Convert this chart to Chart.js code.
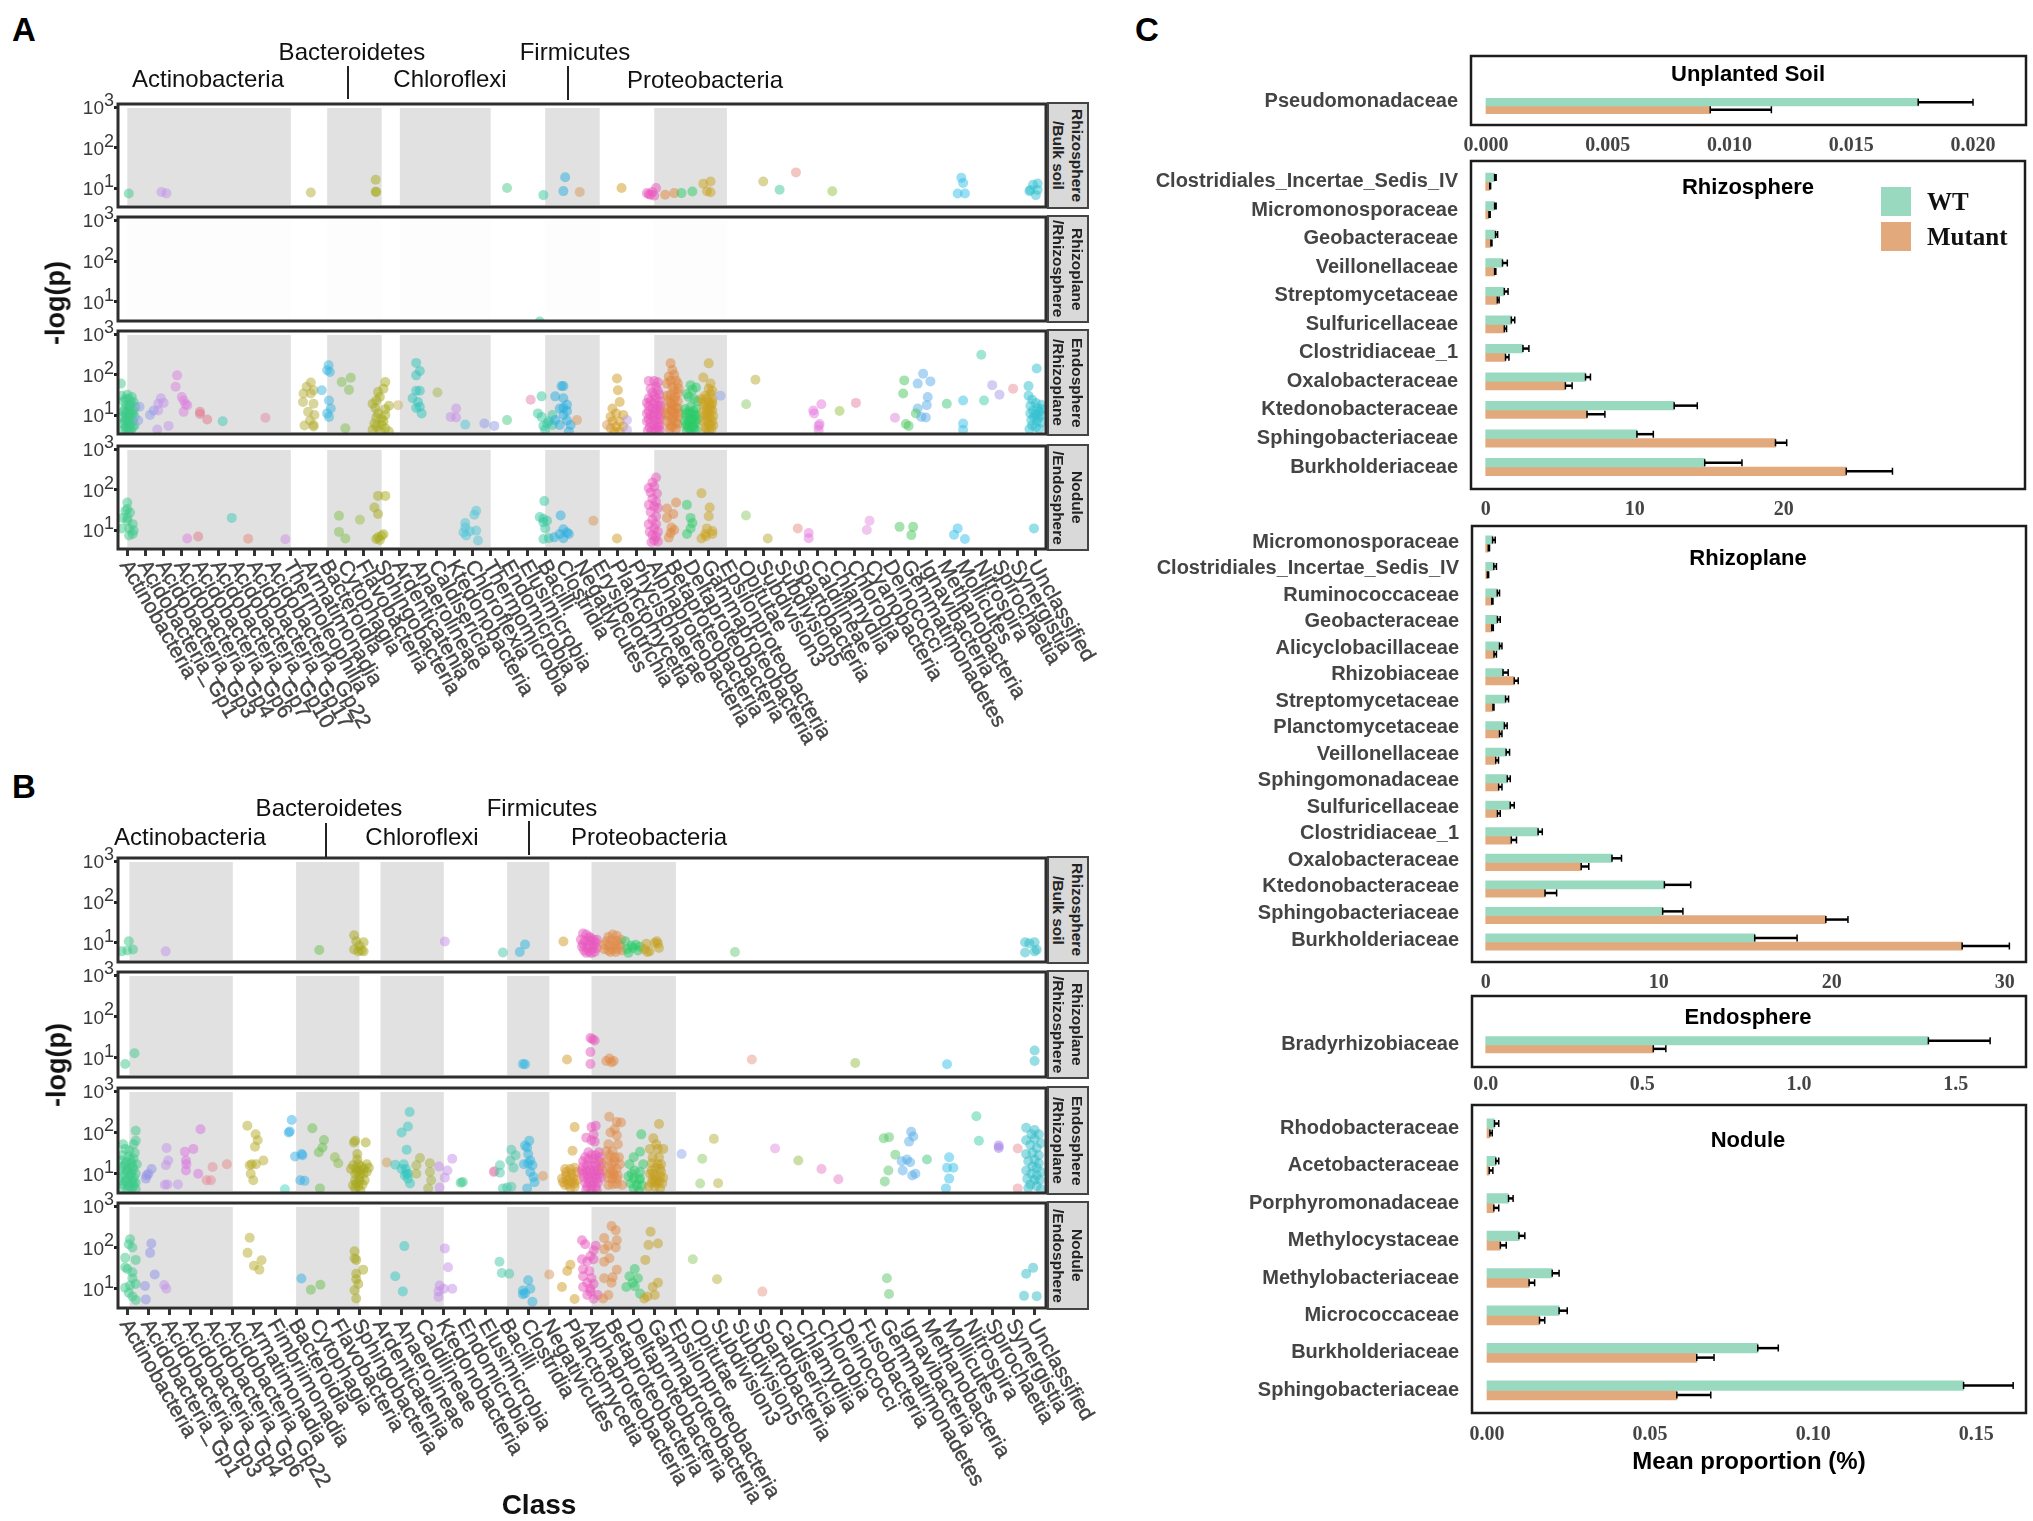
<!DOCTYPE html>
<html>
<head>
<meta charset="utf-8">
<title>Class and family differences</title>
<script src="https://cdn.jsdelivr.net/npm/chart.js@4/dist/chart.umd.min.js"></script>
<style>
    body { margin: 0; background: #fff; }
    #page { position: relative; width: 2033px; height: 1521px; overflow: hidden; font-family: 'Liberation Sans', Arial, sans-serif; }
    #page canvas { position: absolute; }
    .txt { position: absolute; white-space: nowrap; line-height: 1; }
    .strip { position: absolute; box-sizing: border-box; background: #d9d9d9; border: 2px solid #444; display: flex; align-items: center; justify-content: center; }
    .strip span { writing-mode: vertical-rl; font: bold 15.5px/19px 'Liberation Sans', Arial, sans-serif; color: #222; text-align: center; white-space: pre; }
</style>
</head>
<body>
<div id="page"></div>
<script>
// ---------- panels A and B: classes, colours, phylum bands ----------
const classesA = ['Actinobacteria', 'Acidobacteria_Gp1', 'Acidobacteria_Gp3', 'Acidobacteria_Gp4', 'Acidobacteria_Gp6', 'Acidobacteria_Gp7', 'Acidobacteria_Gp10', 'Acidobacteria_Gp17', 'Acidobacteria_Gp22', 'Thermoleophilia', 'Armatimonadia', 'Bacteroidia', 'Cytophagia', 'Flavobacteria', 'Sphingobacteria', 'Ardenticatenia', 'Anaerolineae', 'Caldisericia', 'Ktedonobacteria', 'Chloroflexia', 'Thermomicrobia', 'Endomicrobia', 'Elusimicrobia', 'Bacilli', 'Clostridia', 'Negativicutes', 'Erysipelotrichia', 'Planctomycetia', 'Phycisphaerae', 'Alphaproteobacteria', 'Betaproteobacteria', 'Deltaproteobacteria', 'Gammaproteobacteria', 'Epsilonproteobacteria', 'Opitutae', 'Subdivision3', 'Subdivision5', 'Spartobacteria', 'Caldilineae', 'Chlamydiia', 'Chlorobia', 'Cyanobacteria', 'Deinococci', 'Gemmatimonadetes', 'Ignavibacteria', 'Methanobacteria', 'Mollicutes', 'Nitrospira', 'Spirochaetia', 'Synergistia', 'Unclassified'];
const classesB = ['Actinobacteria', 'Acidobacteria_Gp1', 'Acidobacteria_Gp3', 'Acidobacteria_Gp4', 'Acidobacteria_Gp6', 'Acidobacteria_Gp22', 'Armatimonadia', 'Fimbriimonadia', 'Bacteroidia', 'Cytophagia', 'Flavobacteria', 'Sphingobacteria', 'Ardenticatenia', 'Anaerolineae', 'Caldilineae', 'Ktedonobacteria', 'Endomicrobia', 'Elusimicrobia', 'Bacilli', 'Clostridia', 'Negativicutes', 'Planctomycetia', 'Alphaproteobacteria', 'Betaproteobacteria', 'Deltaproteobacteria', 'Gammaproteobacteria', 'Epsilonproteobacteria', 'Opitutae', 'Subdivision3', 'Subdivision5', 'Spartobacteria', 'Caldisericia', 'Chlamydiia', 'Chlorobia', 'Deinococci', 'Fusobacteria', 'Gemmatimonadetes', 'Ignavibacteria', 'Methanobacteria', 'Mollicutes', 'Nitrospira', 'Spirochaetia', 'Synergistia', 'Unclassified'];

const coloursA = ['#3dc98a', '#8f9be8', '#c193ea', '#dc80e0', '#e2788c', '#3fc8b4', '#3fc8b4', '#e58a78', '#e58aa8', '#d08fe6', '#b4ad3a', '#38b6e0', '#7fc04e', '#9fbf4a', '#a8ab1e', '#c8b060', '#2fc4bc', '#a6b84a', '#c58ee8', '#4fc6d8', '#8f9be8', '#4fc98a', '#e57fb0', '#35c8a0', '#25aee0', '#d9955a', '#d9955a', '#d09a1f', '#b9a0ea', '#ea58bd', '#e0853c', '#2ccb68', '#c9a21f', '#8fa4ea', '#8fcb6a', '#b8ac3a', '#3fc89a', '#e88f84', '#e57ae0', '#98c44a', '#e87fa8', '#e68fe0', '#dd88d8', '#4cc85e', '#5aaee8', '#45c880', '#35c0e8', '#3fd0a8', '#a89ae8', '#e88f9a', '#2fc0d0'];
const coloursB = ['#3dc98a', '#8f8fe8', '#c193ea', '#d873e0', '#e58a9a', '#e58a8a', '#b5ab2a', '#40d8c0', '#35b0e8', '#6cc04e', '#8cbb4a', '#a8a81e', '#cda25a', '#2fc8c0', '#a6b03a', '#c58ee8', '#35c88a', '#e57fb0', '#45c8a8', '#2cb4e0', '#d9955a', '#cf9c25', '#e858bd', '#df8a45', '#2ccb68', '#c4a020', '#8fa8ea', '#8fcb6a', '#b5b040', '#6ccb7a', '#e89a8a', '#e08fe0', '#98c04a', '#e87fc8', '#e87fc8', '#98c04a', '#5cc86a', '#5aaee8', '#45c880', '#35c0e8', '#3fd0a8', '#a07ae8', '#e88f9a', '#2fbcc8'];

const bandsA = [[0, 9], [11, 14], [15, 20], [23, 26], [29, 33]];
const bandsB = [[0.1, 5], [8, 11], [12, 15], [18, 20], [22, 26]];
const logTicks = [10, 100, 1000];

// ---------- panel A points, [class position, -log(p)] ----------
const aBulk = [[.08, 7.3], [1.88, 8], [2.15, 7.4], [10.1, 7.8], [13.67, 16], [13.67, 8.1], [13.7, 8], [20.9, 10], [22.9, 6.7], [24.1, 18.6], [24, 8.4], [24.9, 8], [27.2, 10], [28.7, 7], [29, 6.5], [28.6, 7.5], [28.9, 8], [29.1, 10], [28.8, 6.8], [29.6, 6.8], [30.1, 7.5], [30.5, 7.5], [31.1, 8.2], [31.7, 12.8], [32.1, 14.6], [31.9, 8.3], [32.1, 7.9], [35, 14.6], [35.9, 9.1], [36.8, 24.4], [38.8, 8.3], [45.9, 18], [46, 13.3], [45.7, 7.3], [46.1, 7.3], [49.65, 8.3], [49.7, 9], [50.1, 13], [50.1, 9], [50, 6.7], [49.85, 12]];
const aPlane = [[22.7, 3.3]];
const aEndo = [[-.35, 60], [-.3, 30], [-.2, 22], [-.15, 14], [-.3, 9], [-.2, 6], [-.1, 5], [-.25, 4.2], [0, 32], [.1, 25], [-.05, 18], [.05, 13], [.15, 16], [0, 10], [.1, 8.5], [-.1, 11], [.2, 11], [0, 7], [.15, 6], [.05, 5], [.2, 4.2], [.35, 21], [.35, 13], [.4, 9], [.3, 7], [.4, 5.5], [.25, 28], [.45, 16], [-.05, 4], [.1, 4], [.2, 20], [-.1, 25], [.1, 17], [-.2, 12], [.3, 11], [.15, 9.5], [-.1, 8], [.3, 5], [.05, 6], [-.15, 7],
    [.67, 16], [.6, 7.3], [1.25, 10], [1.45, 13], [1.7, 19], [1.85, 26], [2, 20], [1.7, 13], [1.65, 4.4], [2.27, 5.4], [2.74, 96], [2.66, 50], [3, 28], [3.1, 23], [3.2, 18.6], [3.3, 17.6], [3.1, 12], [4, 12], [4, 10.6], [4.4, 7.8], [5.25, 7], [7.6, 8.6],
    [10.1, 64], [9.7, 34], [10.25, 41], [9.87, 50], [10.1, 34], [9.67, 21], [10.25, 19], [9.95, 12], [10.3, 10], [10.05, 7.3], [10.25, 5.7], [9.75, 5.5], [10.25, 5.2],
    [11.08, 170], [11, 128], [11.15, 116], [10.7, 41], [11.1, 23], [11.2, 14.6], [11, 11], [11.1, 9], [11.8, 66], [12.3, 84], [12.2, 42], [12, 4.7],
    [14.2, 66], [14.1, 45], [13.8, 37], [13.9, 28], [13.7, 23], [13.5, 19], [13.65, 15], [14.2, 14], [14.4, 17], [13.8, 11], [14.2, 10], [13.7, 8.6], [14, 8.2], [13.6, 6.2], [14, 5.7], [14.2, 4.7], [13.5, 4.3], [13.9, 4.2], [14.4, 3.9], [13.7, 5.2], [14.1, 7],
    [14.9, 17.6], [15.9, 195], [16.1, 123], [15.9, 96], [15.9, 40], [16.1, 40], [15.7, 26], [16, 21], [16.1, 16], [15.9, 15], [16.2, 11], [17.07, 36], [18.1, 14.6], [17.8, 9], [18.1, 8.7], [18.6, 5.8], [19.65, 6.2], [20.2, 5.4], [20.9, 7.5],
    [22.2, 24], [22.8, 29], [22.6, 11], [22.8, 9], [23.2, 7], [22.9, 5.4], [23, 4.3], [23.4, 5.7], [23.1, 6.2], [23.4, 10], [23.55, 29], [23.9, 52], [24, 52], [24, 26], [24.2, 18], [24, 15], [23.8, 14.6], [24.2, 12.5], [24, 10], [23.55, 7.5], [24.2, 7.3], [23.8, 5.7], [24.4, 5.7], [24.3, 3.9], [24.75, 7.5],
    [26.95, 80], [27, 41], [26.7, 14.6], [27.1, 21], [26.6, 9], [26.9, 11], [27.3, 10], [26.7, 6.9], [27.1, 6.9], [26.6, 4.7], [26.9, 5.2], [27.3, 5.2], [26.8, 3.9], [27.1, 3.9], [27.5, 7.5], [26.4, 5.7], [27.5, 4.3],
    [29, 70], [28.7, 70], [29.2, 65], [29.1, 50], [28.8, 45], [29.2, 40], [28.9, 35], [29.3, 32], [29, 30], [28.7, 26], [29.1, 26], [28.8, 22], [29.3, 22], [29, 19], [28.7, 17], [29.2, 17], [28.9, 15], [29.1, 14], [28.7, 12.5], [29.3, 13], [29, 11.5], [28.8, 10], [29.2, 10], [28.95, 9], [28.7, 8], [29.3, 8], [29.05, 7.5], [28.8, 6.5], [29.2, 6.5], [29, 5.5], [28.75, 5], [29.2, 5], [29, 4.5], [28.85, 4], [29.15, 4], [28.6, 20], [28.6, 11], [29.35, 17], [29.35, 10], [28.6, 7], [29.3, 5.5], [28.65, 4.2], [29.3, 4.2],
    [29.9, 190], [30, 130], [30.1, 100], [29.8, 90], [29.9, 70], [30.2, 72], [30.3, 60], [30, 50], [29.7, 60], [30.1, 40], [30.3, 35], [29.9, 32], [30.15, 28], [29.8, 24], [30.3, 22], [30, 18], [30.2, 15], [29.9, 13], [30.1, 11], [29.8, 9.5], [30.3, 9], [30, 7.5], [30.2, 6.5], [29.9, 5.5], [29.7, 30], [30.35, 45], [29.7, 15], [30.3, 15], [29.65, 11], [30.35, 11], [29.7, 7], [30.3, 6], [30, 5], [29.85, 4.5], [30.2, 4.6], [30.05, 9], [30, 14], [30.1, 23], [29.9, 20],
    [31, 55], [31.3, 48], [31.1, 42], [30.8, 33], [30.9, 28], [31.2, 25], [31.4, 22], [31, 16], [30.7, 14], [31.3, 14], [31, 11], [31.2, 10], [30.8, 9], [31.1, 8], [31.4, 8], [30.7, 7], [31, 6.5], [31.3, 6.5], [30.85, 5.5], [31.15, 5.5], [31, 4.6], [30.8, 4.2], [31.3, 4.2], [30.9, 12], [31.15, 12.5], [31.3, 10], [30.75, 11], [31, 8], [31.25, 7.5], [30.9, 7], [31.1, 5], [30.9, 4.8], [31.2, 4.8], [30.75, 5.5],
    [32, 190], [31.7, 85], [32.1, 60], [32, 45], [32.2, 40], [32.1, 33], [31.8, 30], [31.9, 26], [32.2, 25], [31.6, 25], [32, 20], [31.75, 18], [32.15, 18], [31.9, 15], [32.2, 13], [32, 11], [31.8, 10], [32.1, 8.5], [31.9, 7.5], [32.2, 7], [32, 6], [31.8, 5], [32.15, 4.5], [32, 4], [31.7, 12], [32.1, 14], [31.9, 11.5], [32.25, 9.5], [31.7, 7], [32.25, 5.5], [31.85, 4.3], [32.1, 5.5], [31.95, 9], [32.05, 16], [32.2, 20], [31.7, 21],
    [32.65, 30], [34.06, 18.6], [34.57, 75], [37.8, 11], [37.75, 13], [38.2, 18.6], [38.05, 5.4], [38.05, 4.3], [38.1, 6], [39.2, 12.6], [40.1, 20], [42.25, 8.6], [42.76, 72], [42.7, 34], [42.85, 6], [43, 5.4], [43.8, 105], [44.2, 68], [43.5, 60], [44.05, 28], [44, 17.6], [43.5, 14.6], [43.4, 11], [43.7, 9], [43.95, 8.7], [45.1, 19], [46, 23], [46, 6.2], [46, 4.3], [47, 310], [47.15, 23], [47.6, 55], [48, 32], [48.75, 45],
    [50.05, 142], [49.6, 52], [49.6, 30], [49.8, 24], [50, 20], [50.3, 18], [49.7, 17], [50.1, 15], [50.35, 14], [49.85, 13], [50.2, 12], [49.7, 11], [50, 10.5], [50.3, 10], [49.9, 9], [50.15, 8.5], [49.75, 7.5], [50.05, 7], [50.3, 6.5], [49.8, 5.5], [50, 5], [49.65, 4.5], [50.2, 4.5]];
const aNodule = [[0, 48], [0, 33], [-.1, 30], [.15, 27], [-.25, 20], [0, 17], [.3, 14], [.1, 11], [-.3, 11], [.35, 9.7], [.3, 8], [.1, 7.3], [0, 20],
    [3.3, 6.2], [3.9, 6.9], [5.75, 20], [6.65, 6.1], [8.7, 5.9], [11.65, 22.5], [11.65, 9], [12, 6.2], [12.8, 18], [13.6, 36], [13.8, 25], [13.8, 70], [14.2, 70], [13.7, 6], [13.8, 6.6], [14, 7.2], [14.1, 7.9], [13.9, 5.7],
    [19.2, 30], [19.1, 24], [18.6, 15], [18.6, 11.5], [18.5, 8.7], [18.85, 9.4], [19.2, 9.7], [18.65, 7.3], [19.3, 5.5], [22.95, 52], [22.7, 21], [22.9, 19], [23.1, 17], [22.9, 15.5], [23, 11], [22.9, 6], [23.2, 6.3], [23.85, 23], [24, 10.5], [24.2, 8.7], [23.8, 8], [24.3, 8], [24, 6.3], [23.5, 6.6], [25.65, 17], [26.95, 6.2],
    [28.7, 110], [29.1, 200], [28.9, 150], [29, 120], [28.8, 85], [29.15, 80], [28.9, 60], [29.1, 50], [28.7, 42], [29, 38], [29.2, 35], [28.8, 28], [29.1, 22], [28.9, 18], [28.7, 14], [29.1, 14], [29, 11], [28.75, 9], [29.2, 9], [28.9, 7.5], [29.1, 6.8], [29, 5.5], [28.85, 5], [29.2, 5.2],
    [29.7, 34], [30.2, 48], [30.05, 25], [29.7, 20], [29.9, 8.5], [30.1, 10], [29.8, 6.5], [29.95, 11.5], [30.8, 42], [31, 20], [31.1, 15], [31, 11], [30.8, 8], [31.6, 81], [32.05, 36], [32, 22], [31.9, 11], [31.8, 8], [32.2, 9.5], [31.6, 6.2], [31.85, 7], [32.2, 8],
    [34.05, 23], [35.25, 6.2], [36.9, 11], [37.5, 8.5], [37.5, 6.3], [40.85, 17], [40.7, 10], [42.5, 12], [43.25, 12], [43.15, 7.5], [45.7, 11], [45.5, 7.7], [46.1, 6], [49.9, 11]];

// ---------- panel B points ----------
const bBulk = [[-.27, 6.2], [.07, 11], [0, 6.5], [.27, 6.9], [1.82, 6.2], [9.1, 6.7], [10.75, 15.4], [10.85, 11], [11.2, 10.4], [10.75, 6.9], [10.95, 6.2], [11.1, 6.5], [11.2, 6.2], [11, 8.5], [15.05, 10.8], [17.8, 5.8], [18.6, 6], [18.85, 9.1], [20.67, 10.8],
    [21.6, 17], [21.75, 16], [21.9, 14], [22.1, 12], [21.5, 12], [21.7, 11], [21.95, 11], [22.2, 10], [21.6, 9.5], [21.85, 9], [22.1, 8.5], [21.55, 8], [21.8, 7.5], [22.05, 7.2], [22.25, 7.5], [21.65, 6.5], [21.9, 6], [22.15, 6], [21.75, 5.7], [22, 5.6], [21.95, 13], [22.25, 12],
    [22.8, 14], [23, 16], [23.2, 15], [22.7, 11], [22.95, 11.5], [23.2, 11], [23.4, 12], [22.6, 9], [22.85, 8.5], [23.1, 9], [23.35, 9], [22.6, 7], [22.8, 6.5], [23, 7], [23.25, 7], [23.45, 6.5], [22.9, 6], [23.15, 6],
    [23.6, 11], [23.9, 8.5], [24.1, 9], [23.7, 7], [23.95, 7.5], [24.2, 6.5], [23.75, 5.7], [24.3, 8],
    [24.6, 9.5], [24.65, 6], [24.75, 6.2], [25.1, 11], [25.2, 7.5], [24.5, 7], [25, 10], [25.15, 9.5], [28.8, 6], [42.55, 10.4], [42.55, 5.8], [43, 10.4], [43, 6.2], [43.1, 6.8], [42.75, 9.8]];
const bPlane = [[-.1, 7], [.34, 12.8], [18.75, 7], [18.85, 6.9], [20.84, 9], [22.05, 28], [21.95, 30], [22.15, 26], [21.95, 13.8], [21.95, 7], [22.7, 8.3], [22.85, 9.5], [22.95, 7.7], [23.05, 8.3], [29.6, 9], [34.5, 7.4], [38.85, 6.9], [43, 15], [43, 8.3]];
const bEndo = [[.4, 110], [.4, 63], [-.2, 52], [.3, 52], [-.1, 40], [.1, 36], [.35, 32], [-.25, 28], [.05, 26], [.3, 23], [-.3, 21], [-.05, 19], [.2, 18], [.45, 17], [-.2, 15], [.05, 14], [.3, 13], [-.3, 12], [-.05, 11], [.2, 10.5], [.4, 10], [-.2, 9], [.1, 8.5], [.3, 8], [-.3, 7], [-.05, 7], [.2, 6.5], [.4, 6], [-.2, 5.5], [.05, 5.3], [.3, 5], [-.25, 4.4], [0, 4.2], [.2, 4.3], [.4, 4.2], [.15, 22], [-.1, 17], [.25, 15], [0, 12], [.15, 9.5], [-.1, 6.5], [.3, 6], [.1, 4.8],
    [.92, 9.1], [1.15, 13], [.88, 7.6], [1, 10], [1.86, 42], [1.94, 21], [1.83, 16], [1.78, 5.4], [1.9, 5.5], [2.4, 5.5], [3.47, 120], [3.13, 40], [2.73, 34], [2.78, 21], [2.8, 17], [2.78, 12], [3.36, 10], [3.76, 6.9], [3.96, 6.9], [4.04, 14.5], [4.72, 17],
    [5.69, 145], [6.08, 91], [6.18, 65], [6.05, 45], [5.9, 17], [6.1, 17], [6.45, 21], [5.8, 16], [5.85, 10], [5.97, 6.9], [7.47, 4.2], [7.79, 200], [7.7, 106], [7.65, 100], [7.95, 26], [8.26, 30], [8.3, 28], [8.2, 6.9], [8.4, 6.7],
    [8.77, 127], [9.32, 66], [9.25, 43], [9.08, 33], [9.84, 25], [10, 18], [9.13, 4.4],
    [10.74, 57], [10.8, 63], [11.3, 57], [10.9, 30], [10.9, 22], [10.7, 16], [10.95, 17], [11.35, 17], [10.6, 13], [10.85, 13.5], [11.2, 13], [11.45, 14], [10.8, 10], [11.05, 10], [11.35, 11], [10.8, 6.9], [11.25, 6.9], [10.85, 5.8], [10.95, 4.9], [10.8, 4.4], [11.05, 3.9], [11, 12], [11.1, 15], [10.9, 11], [11.2, 10], [11, 7.5], [11.15, 5.5], [10.7, 5.2], [11, 6.5],
    [12.3, 18.7], [13.38, 313], [13.3, 140], [13, 100], [13.24, 38], [12.7, 16.5], [13.1, 17], [13.2, 13], [13, 13], [13.24, 10], [13.3, 10], [13.15, 9], [13.4, 5.8], [13.3, 7.6],
    [13.87, 24], [13.7, 16], [14.34, 18], [14.34, 11], [13.7, 10], [14.4, 6.9], [14.26, 4.4], [15.4, 23], [14.77, 15], [15.17, 12], [15.05, 8], [14.8, 4.6], [15.8, 6], [15.9, 6.3], [17.4, 11.5], [17.37, 11],
    [18.2, 38], [18.4, 28], [17.66, 16], [17.66, 10.5], [18.3, 14], [18.15, 21], [17.8, 4.4], [18, 4.6], [18.2, 4.8],
    [19.05, 63], [18.85, 48], [18.95, 43], [19, 30], [19.1, 21], [18.8, 17], [19, 18], [19.2, 16], [19.1, 11], [19.25, 8.3], [19.3, 6.2], [18.95, 4.4], [19.7, 8.8],
    [21.2, 135], [21.1, 36], [20.75, 13], [21, 13], [21.2, 14], [20.8, 9], [21.05, 10], [21.3, 11], [20.6, 7.6], [20.85, 6.9], [21.05, 6.2], [21.2, 5.8], [21.3, 6.9], [20.65, 6.2], [20.8, 11], [21, 8], [21.15, 8], [20.9, 5.5], [20.75, 5.3], [21, 4.6], [21.2, 4.8],
    [22.2, 146], [22, 135], [22.1, 90], [21.75, 75], [22.15, 60], [22, 65], [21.85, 33], [22.35, 33], [21.7, 25], [22, 28], [22.2, 28], [22.4, 25], [21.6, 20], [21.85, 22], [22.1, 22], [22.35, 20], [22.5, 18], [21.6, 15], [21.8, 16], [22, 16], [22.2, 16], [22.45, 15], [21.55, 12], [21.75, 12], [21.95, 12.5], [22.15, 12], [22.35, 12], [22.55, 12], [21.6, 10], [21.8, 9.5], [22, 10], [22.2, 9.5], [22.4, 10], [21.65, 8], [21.85, 7.5], [22.05, 8], [22.25, 7.5], [22.45, 8], [21.7, 6], [21.9, 6], [22.1, 6], [22.3, 6], [21.8, 4.8], [22, 4.8], [22.2, 4.8], [21.75, 4], [22, 3.9], [22.25, 4],
    [22.84, 240], [23.2, 180], [23.4, 175], [22.9, 100], [23.1, 120], [23.2, 85], [22.8, 52], [23, 35], [23.25, 52], [22.7, 35], [22.8, 21], [23.1, 20], [22.85, 10], [23.2, 13], [23.35, 17], [22.8, 5.3], [23.2, 5.6], [23.45, 5.3], [23, 7.6], [22.95, 17], [23.25, 9], [23, 12], [22.9, 13], [23.1, 25], [22.85, 28], [23.3, 25], [23.05, 9.5], [22.8, 8], [23.2, 7.5], [23, 5.5],
    [24.36, 90], [24.3, 34], [24, 25], [24.45, 17], [23.8, 17], [24.05, 12], [24.3, 11], [23.75, 8.6], [24, 7.6], [24.25, 7], [23.85, 5.8], [24.15, 5.2], [24.4, 5.2], [24, 4.4], [24.25, 3.9], [23.9, 10], [24.3, 7.6],
    [25.2, 160], [24.93, 72], [24.77, 40], [25.15, 40], [25.07, 52], [25.4, 40], [24.85, 18], [25.3, 17], [24.93, 10], [25.25, 8.6], [25.4, 8], [24.85, 6], [25.1, 5.8], [25.35, 5.8], [24.7, 4.8], [25, 4.8], [25.25, 4.4], [24.77, 10], [25.15, 17], [24.9, 25], [25.2, 25], [25.05, 14], [24.85, 12], [25.25, 13], [25.05, 8], [25, 6.5], [24.9, 7.5], [25.2, 6.5], [25.3, 11],
    [26.27, 30], [27.8, 70], [27.25, 23], [27.15, 5.8], [28, 5.9], [30.7, 41], [31.8, 21], [32.9, 13], [33.7, 7.3], [36.1, 77], [35.85, 72], [36.4, 29], [36.07, 12], [35.9, 6.5], [37.15, 104], [37.25, 80], [37.05, 60], [36.7, 20], [36.95, 22], [37.1, 19], [36.75, 12], [37.35, 10], [37.2, 9], [37.9, 22], [38.95, 25], [38.85, 14], [39.15, 14], [38.95, 7.6], [38.8, 4.4], [40.24, 247], [40.36, 63], [41.3, 42], [41.3, 48], [42.2, 41], [42.2, 4.4],
    [42.6, 130], [43, 115], [42.85, 90], [43.2, 90], [42.6, 65], [43, 70], [43.3, 55], [42.8, 50], [43.1, 42], [42.6, 30], [42.9, 32], [43.2, 28], [43, 22], [42.7, 20], [43.2, 18], [42.9, 15], [43.1, 14], [42.6, 12], [43.3, 11], [42.85, 10], [43.1, 9], [42.65, 7.5], [43, 7], [43.25, 7], [42.8, 5.5], [43.1, 5], [42.7, 4.5], [43.3, 4.2]];
const bNodule = [[.13, 158], [.07, 120], [.24, 100], [-.1, 56], [.4, 50], [0, 30], [-.1, 33], [.24, 25], [.24, 18], [.4, 13], [-.1, 10.5], [.07, 8], [.24, 6.5], [.4, 5.3], [.13, 12], [1.14, 125], [1.08, 74], [.84, 11.6], [.88, 5.5], [1.3, 22], [1.75, 12.3], [1.85, 10],
    [5.8, 173], [5.7, 74], [6.36, 49], [6, 36], [6.26, 29], [8.25, 17.6], [8.7, 9.4], [9.15, 12.5], [10.77, 81], [10.77, 55], [10.85, 50], [11.18, 29], [10.85, 23], [10.85, 17], [10.95, 13], [10.77, 9.2], [10.85, 5.8],
    [13.13, 108], [12.7, 20], [13.06, 8.6], [15.05, 95], [15.2, 33], [14.8, 12], [14.75, 8.6], [14.75, 6.3], [15, 10], [15.4, 10],
    [17.64, 45], [17.75, 24], [18.1, 23], [19, 16], [18.75, 9], [18.85, 7.7], [19.2, 4.8], [19.1, 10], [18.75, 7.3], [20, 22], [21, 38], [20.85, 27], [20.6, 11], [21.2, 5.6],
    [21.55, 150], [21.7, 120], [22.2, 110], [22.1, 85], [21.95, 62], [21.55, 52], [21.8, 46], [22.1, 52], [21.6, 30], [21.9, 27], [21.6, 20], [22, 18], [21.8, 14], [22.1, 13], [21.6, 11], [21.95, 8.5], [21.8, 7], [22.1, 5.7], [21.95, 10], [22.3, 7],
    [22.95, 330], [23.15, 260], [22.6, 170], [23.2, 150], [22.8, 110], [23.15, 100], [22.6, 90], [22.85, 55], [22.6, 45], [23.2, 29], [22.6, 18], [23, 19], [22.95, 14], [22.55, 5.8], [22.8, 7],
    [24.05, 30], [23.8, 20], [24.2, 18], [23.95, 14], [23.65, 11], [24.05, 11.5], [24.3, 7.6], [24.8, 240], [25.15, 125], [24.7, 115], [24.55, 50], [25.15, 14], [24.9, 11], [24.5, 5.8], [25, 7], [24.65, 6.5],
    [26.8, 52], [27.95, 17], [30.1, 8.5], [36, 18], [36.1, 7.4], [42.93, 32], [42.6, 23], [42.5, 6.7], [43.1, 6.6]];

// ---------- panel C: families, means, error-bar ends ----------
const soilFamilies = ['Pseudomonadaceae'];
const soilWT = [0.01775], soilWTEnd = [0.02], soilMutant = [0.00921], soilMutantEnd = [0.01172];
const soilTicks = [0, 0.005, 0.01, 0.015, 0.02], soilTickLabels = ['0.000', '0.005', '0.010', '0.015', '0.020'];

const sphereFamilies = ['Clostridiales_Incertae_Sedis_IV', 'Micromonosporaceae', 'Geobacteraceae', 'Veillonellaceae', 'Streptomycetaceae', 'Sulfuricellaceae', 'Clostridiaceae_1', 'Oxalobacteraceae', 'Ktedonobacteraceae', 'Sphingobacteriaceae', 'Burkholderiaceae'];
const sphereWT = [.6, .6, .66, 1.13, 1.25, 1.72, 2.5, 6.7, 12.65, 10.15, 14.7];
const sphereWTEnd = [.7, .7, .8, 1.45, 1.5, 1.95, 2.9, 7.03, 14.2, 11.25, 17.2];
const sphereMutant = [.27, .22, .35, .6, .78, 1.25, 1.33, 5.35, 6.8, 19.45, 24.2];
const sphereMutantEnd = [.33, .3, .42, .68, .9, 1.4, 1.56, 5.8, 8, 20.2, 27.3];
const sphereTicks = [0, 10, 20], sphereTickLabels = ['0', '10', '20'];

const planeFamilies = ['Micromonosporaceae', 'Clostridiales_Incertae_Sedis_IV', 'Ruminococcaceae', 'Geobacteraceae', 'Alicyclobacillaceae', 'Rhizobiaceae', 'Streptomycetaceae', 'Planctomycetaceae', 'Veillonellaceae', 'Sphingomonadaceae', 'Sulfuricellaceae', 'Clostridiaceae_1', 'Oxalobacteraceae', 'Ktedonobacteraceae', 'Sphingobacteriaceae', 'Burkholderiaceae'];
const planeWT = [.4, .47, .67, .68, .8, 1, 1.15, 1.08, 1.18, 1.25, 1.42, 3.03, 7.3, 10.33, 10.23, 15.55];
const planeWTEnd = [.55, .62, .8, .84, .94, 1.3, 1.32, 1.24, 1.38, 1.42, 1.65, 3.27, 7.85, 11.85, 11.4, 18];
const planeMutant = [.15, .1, .35, .35, .48, 1.65, .42, .8, .58, .75, .68, 1.48, 5.52, 3.43, 19.66, 27.54];
const planeMutantEnd = [.22, .17, .42, .44, .62, 1.88, .48, .94, .74, .94, .84, 1.78, 5.96, 4.1, 20.94, 30.27];
const planeTicks = [0, 10, 20, 30], planeTickLabels = ['0', '10', '20', '30'];

const endoFamilies = ['Bradyrhizobiaceae'];
const endoWT = [1.413], endoWTEnd = [1.61], endoMutant = [.535], endoMutantEnd = [.575];
const endoTicks = [0, .5, 1, 1.5], endoTickLabels = ['0.0', '0.5', '1.0', '1.5'];

const noduleFamilies = ['Rhodobacteraceae', 'Acetobacteraceae', 'Porphyromonadaceae', 'Methylocystaceae', 'Methylobacteriaceae', 'Micrococcaceae', 'Burkholderiaceae', 'Sphingobacteriaceae'];
const noduleWT = [.0023, .0027, .0066, .0098, .02, .0221, .083, .1461];
const noduleWTEnd = [.0036, .0036, .008, .0116, .0221, .0246, .0893, .1613];
const noduleMutant = [.0009, .0007, .0021, .0041, .0129, .0161, .0643, .0582];
const noduleMutantEnd = [.0016, .0018, .0036, .0059, .0146, .0177, .0696, .0686];
const noduleTicks = [0, .05, .1, .15], noduleTickLabels = ['0.00', '0.05', '0.10', '0.15'];

const WT_COLOUR = '#98d9bf';
const MUTANT_COLOUR = '#e2aa7c';
const FRAME_COLOUR = '#2e2e2e';
const page = document.getElementById('page');
const SANS = "'Liberation Sans', Arial, sans-serif";
const SERIF = "'Liberation Serif', 'Times New Roman', serif";

function addText(text, x, y, font, colour, opts = {}) {
    const el = document.createElement('div');
    el.className = 'txt';
    el.textContent = text;
    el.style.left = x + 'px';
    el.style.top = y + 'px';
    el.style.font = font;
    el.style.color = colour || '#000';
    const ax = opts.align === 'left' ? '0' : '-50%';
    el.style.transform = `translate(${ax}, -50%)` + (opts.rotate ? ` rotate(${opts.rotate}deg)` : '');
    page.appendChild(el);
}

function addLine(x, y1, y2) {
    const el = document.createElement('div');
    el.style.cssText = `position:absolute;left:${x}px;top:${y1}px;width:2px;height:${y2 - y1}px;background:#222`;
    page.appendChild(el);
}

function addCanvas(left, top, width, height) {
    const canvas = document.createElement('canvas');
    canvas.width = width;
    canvas.height = height;
    canvas.style.cssText = `left:${left}px;top:${top}px;width:${width}px;height:${height}px`;
    page.appendChild(canvas);
    return canvas;
}

const stripDecor = {
    id: 'stripDecor',
    beforeDatasetsDraw(chart, args, o) {
        const { ctx, chartArea: a, scales: { x } } = chart;
        ctx.save();
        ctx.fillStyle = o.bandColour;
        o.bands.forEach(([from, to]) => {
            const left = x.getPixelForValue(from);
            ctx.fillRect(left, a.top + 4, x.getPixelForValue(to) - left, a.bottom - a.top - 6);
        });
        ctx.restore();
    },
    afterDatasetsDraw(chart, args, o) {
        const { ctx, chartArea: a, scales: { x, y } } = chart;
        ctx.save();
        ctx.strokeStyle = FRAME_COLOUR;
        ctx.lineWidth = 3;
        ctx.strokeRect(a.left, a.top, a.right - a.left, a.bottom - a.top);

        // 10^n tick labels, the superscript is nearly full size in this figure
        ctx.fillStyle = '#3a3a3a';
        logTicks.forEach((t, i) => {
            const py = y.getPixelForValue(t);
            ctx.textBaseline = 'middle';
            ctx.textAlign = 'right';
            ctx.font = `19px ${SANS}`;
            ctx.fillText('10', a.left - 14, py + 2);
            ctx.textAlign = 'left';
            ctx.font = `18px ${SANS}`;
            ctx.fillText(String(i + 1), a.left - 14, py - 6);
        });

        if (o.labels) {
            ctx.fillStyle = '#444';
            ctx.strokeStyle = '#444';
            ctx.lineWidth = 0.4;
            ctx.font = `21px ${SANS}`;
            ctx.textAlign = 'left';
            ctx.textBaseline = 'middle';
            o.labels.forEach((label, i) => {
                ctx.save();
                ctx.translate(x.getPixelForValue(i) - 3, a.bottom + 13);
                ctx.rotate(Math.PI / 3);
                ctx.fillText(label, 0, 0);
                ctx.strokeText(label, 0, 0);
                ctx.restore();
            });
        }
        ctx.restore();
    }
};

function drawStrip(points, classes, colours, bands, geo, showLabels, bandColour) {
    const padTop = 14, padLeft = 50, padRight = 80, extra = showLabels ? 240 : 2;
    const plotW = geo.right - geo.left, plotH = geo.bottom - geo.top;
    const canvas = addCanvas(geo.left - padLeft, geo.top - padTop, padLeft + plotW + padRight, padTop + plotH + extra);
    const first = geo.firstTick, step = geo.tickStep;
    return new Chart(canvas, {
        type: 'scatter',
        data: {
            datasets: [{
                data: points.map(p => ({ x: p[0], y: p[1] })),
                pointRadius: 5,
                pointBorderWidth: 0,
                pointBackgroundColor: c => colours[Math.round(c.raw.x)] + '80'
            }]
        },
        options: {
            responsive: false,
            animation: false,
            devicePixelRatio: 1,
            // autoPadding would add the point radius below the short strips
            layout: { autoPadding: false, padding: { top: padTop, right: padRight, bottom: 0 } },
            plugins: {
                legend: { display: false },
                tooltip: { enabled: false },
                stripDecor: { bands, bandColour, labels: showLabels ? classes : null }
            },
            scales: {
                x: {
                    type: 'linear',
                    min: (geo.left - first) / step,
                    max: (geo.right - first) / step,
                    afterBuildTicks: s => { s.ticks = classes.map((_, i) => ({ value: i })); },
                    afterFit: s => { s.height = extra; s.paddingLeft = 0; s.paddingRight = 0; },
                    ticks: { display: false },
                    // only the bottom strip of a panel carries class ticks
                    grid: { display: showLabels, drawOnChartArea: false, tickLength: 7, tickWidth: 3, tickColor: '#333' },
                    border: { display: false }
                },
                y: {
                    type: 'logarithmic',
                    min: 3.4,
                    max: 1200,
                    afterBuildTicks: s => { s.ticks = logTicks.map(v => ({ value: v })); },
                    afterFit: s => { s.width = padLeft; s.paddingTop = 0; s.paddingBottom = 0; },
                    ticks: { display: false },
                    grid: { drawOnChartArea: false, tickLength: 4, tickWidth: 3, tickColor: '#222' },
                    border: { display: false }
                }
            }
        },
        plugins: [stripDecor]
    });
}

function drawPanel(classes, colours, bands, stripTops, firstTick, tickStep, series, clearPlaneBand) {
    series.forEach((points, i) => {
        const geo = { left: 118, right: 1046, top: stripTops[i][0], bottom: stripTops[i][1], firstTick, tickStep };
        const bandColour = clearPlaneBand && i === 1 ? '#fdfdfd' : '#e0e1e0';
        drawStrip(points, classes, colours, bands, geo, i === series.length - 1, bandColour);
    });
}

const stripNames = ['Rhizosphere\n/Bulk soil', 'Rhizoplane\n/Rhizosphere', 'Endosphere\n/Rhizoplane', 'Nodule\n/Endosphere'];
function drawStripBoxes(stripTops) {
    stripTops.forEach(([top, bottom], i) => {
        const box = document.createElement('div');
        box.className = 'strip';
        box.style.cssText = `left:1047px;top:${top - 2}px;width:42px;height:${bottom - top + 4}px`;
        const span = document.createElement('span');
        span.textContent = stripNames[i];
        box.appendChild(span);
        page.appendChild(box);
    });
}

const stripsA = [[104, 207], [217, 321], [331, 434], [446, 549]];
const stripsB = [[858, 962], [972, 1077], [1088, 1193], [1203, 1308]];
drawPanel(classesA, coloursA, bandsA, stripsA, 127.3, 18.17, [aBulk, aPlane, aEndo, aNodule], true);
drawPanel(classesB, coloursB, bandsB, stripsB, 127.3, 21.1, [bBulk, bPlane, bEndo, bNodule], false);
drawStripBoxes(stripsA);
drawStripBoxes(stripsB);

// ---------- family bars with error whiskers ----------
const whiskers = {
    id: 'whiskers',
    afterDatasetsDraw(chart, args, o) {
        const { ctx, scales: { x } } = chart;
        ctx.save();
        ctx.strokeStyle = '#000';
        chart.data.datasets.forEach((ds, d) => {
            chart.getDatasetMeta(d).data.forEach((bar, i) => {
                const x1 = x.getPixelForValue(ds.data[i]);
                const x2 = x.getPixelForValue(ds.ends[i]);
                ctx.lineWidth = 2.5;
                ctx.beginPath();
                ctx.moveTo(x1, bar.y);
                ctx.lineTo(x2, bar.y);
                ctx.stroke();
                ctx.lineWidth = 1.5;
                ctx.beginPath();
                ctx.moveTo(x1, bar.y - 3.5);
                ctx.lineTo(x1, bar.y + 3.5);
                ctx.moveTo(x2, bar.y - 3.5);
                ctx.lineTo(x2, bar.y + 3.5);
                ctx.stroke();
            });
        });
        const a = chart.chartArea;
        ctx.strokeStyle = '#1c1c1c';
        ctx.lineWidth = 2.5;
        ctx.strokeRect(a.left, o.top, a.right - a.left, o.bottom - o.top);
        ctx.restore();
    }
};

function drawBars(families, wt, wtEnd, mutant, mutantEnd, ticks, tickLabels, g) {
    const canvasTop = g.top - 4, canvasBottom = g.bottom + 40, canvasLeft = 1125;
    const bandTop = g.firstCentre - g.spacing / 2;
    const bandBottom = g.lastCentre + g.spacing / 2;
    const canvas = addCanvas(canvasLeft, canvasTop, 2033 - canvasLeft, canvasBottom - canvasTop);
    return new Chart(canvas, {
        type: 'bar',
        data: {
            labels: families,
            datasets: [
                { label: 'WT', data: wt, ends: wtEnd, backgroundColor: WT_COLOUR, barThickness: g.bar },
                { label: 'Mutant', data: mutant, ends: mutantEnd, backgroundColor: MUTANT_COLOUR, barThickness: g.bar }
            ]
        },
        options: {
            indexAxis: 'y',
            responsive: false,
            animation: false,
            devicePixelRatio: 1,
            layout: { padding: { top: bandTop - canvasTop, right: 2033 - g.right } },
            plugins: {
                legend: { display: false },
                tooltip: { enabled: false },
                whiskers: { top: g.top - canvasTop, bottom: g.bottom - canvasTop }
            },
            scales: {
                x: {
                    type: 'linear',
                    min: (g.left - g.zero) / g.perUnit,
                    max: (g.right - g.zero) / g.perUnit,
                    afterBuildTicks: s => { s.ticks = ticks.map(v => ({ value: v })); },
                    afterFit: s => { s.height = canvasBottom - bandBottom; s.paddingLeft = 0; s.paddingRight = 0; },
                    ticks: {
                        autoSkip: false,
                        maxRotation: 0,
                        callback: (v, i) => tickLabels[i],
                        padding: g.bottom - bandBottom + g.tickGap,
                        color: '#444',
                        font: { family: SERIF, size: 20, weight: 'bold' }
                    },
                    grid: { display: false, drawTicks: false },
                    border: { display: false }
                },
                y: {
                    type: 'category',
                    afterFit: s => { s.width = g.left - canvasLeft; s.paddingTop = 0; s.paddingBottom = 0; },
                    ticks: {
                        autoSkip: false,
                        padding: 13,
                        labelOffset: g.labelShift || 0,
                        color: '#444',
                        font: { family: SANS, size: 20, weight: 'bold' }
                    },
                    grid: { display: false, drawTicks: false },
                    border: { display: false }
                }
            }
        },
        plugins: [whiskers]
    });
}

drawBars(soilFamilies, soilWT, soilWTEnd, soilMutant, soilMutantEnd, soilTicks, soilTickLabels,
    { left: 1471, right: 2026, top: 56, bottom: 125, zero: 1486, perUnit: 24350, firstCentre: 106, lastCentre: 106, spacing: 38, bar: 7.7, tickGap: 9, labelShift: -5 });
drawBars(sphereFamilies, sphereWT, sphereWTEnd, sphereMutant, sphereMutantEnd, sphereTicks, sphereTickLabels,
    { left: 1471, right: 2025, top: 161, bottom: 489, zero: 1485.7, perUnit: 14.9, firstCentre: 181.7, lastCentre: 467, spacing: 28.53, bar: 8.6, tickGap: 9 });
drawBars(planeFamilies, planeWT, planeWTEnd, planeMutant, planeMutantEnd, planeTicks, planeTickLabels,
    { left: 1472, right: 2026, top: 526, bottom: 962, zero: 1485.7, perUnit: 17.3, firstCentre: 544, lastCentre: 942, spacing: 26.53, bar: 8.2, tickGap: 9, labelShift: -2 });
drawBars(endoFamilies, endoWT, endoWTEnd, endoMutant, endoMutantEnd, endoTicks, endoTickLabels,
    { left: 1472, right: 2026, top: 996, bottom: 1067, zero: 1485.7, perUnit: 313.3, firstCentre: 1044.8, lastCentre: 1044.8, spacing: 40, bar: 8.1, tickGap: 6 });
drawBars(noduleFamilies, noduleWT, noduleWTEnd, noduleMutant, noduleMutantEnd, noduleTicks, noduleTickLabels,
    { left: 1472, right: 2026, top: 1105, bottom: 1413, zero: 1487, perUnit: 3262, firstCentre: 1128.3, lastCentre: 1390.3, spacing: 37.43, bar: 9.5, tickGap: 10 });

// ---------- loose text, headings and the legend ----------
const PANEL_FONT = `bold 33px ${SANS}`;
addText('A', 24, 30, PANEL_FONT);
addText('B', 24, 787, PANEL_FONT);
addText('C', 1147, 30, PANEL_FONT);

const PHYLUM_FONT = `24px ${SANS}`;
[['Actinobacteria', 208, 79], ['Bacteroidetes', 352, 52], ['Chloroflexi', 450, 79], ['Firmicutes', 575, 52], ['Proteobacteria', 705, 80],
    ['Actinobacteria', 190, 837], ['Bacteroidetes', 329, 808], ['Chloroflexi', 422, 837], ['Firmicutes', 542, 808], ['Proteobacteria', 649, 837]]
    .forEach(([t, x, y]) => addText(t, x, y, PHYLUM_FONT, '#111'));
addLine(347, 66, 99);
addLine(567, 66, 100);
addLine(325, 823, 857);
addLine(528, 821, 855);

addText('-log(p)', 56, 303, `bold 27px ${SANS}`, '#111', { rotate: -90 });
addText('-log(p)', 57, 1065, `bold 27px ${SANS}`, '#111', { rotate: -90 });
addText('Class', 539, 1505, `bold 28px ${SANS}`, '#111');

const TITLE_FONT = `bold 22px ${SANS}`;
[['Unplanted Soil', 74], ['Rhizosphere', 187], ['Rhizoplane', 558], ['Endosphere', 1017], ['Nodule', 1140]]
    .forEach(([t, y]) => addText(t, 1748, y, TITLE_FONT, '#000'));
addText('Mean proportion (%)', 1749, 1461, `bold 24px ${SANS}`, '#000');

[[WT_COLOUR, 187, 'WT', 202], [MUTANT_COLOUR, 222, 'Mutant', 237]].forEach(([colour, top, label, y]) => {
    const swatch = document.createElement('div');
    swatch.style.cssText = `position:absolute;left:1881px;top:${top}px;width:30px;height:29px;background:${colour}`;
    page.appendChild(swatch);
    addText(label, 1927, y, `bold 25px ${SERIF}`, '#111', { align: 'left' });
});
</script>
</body>
</html>
